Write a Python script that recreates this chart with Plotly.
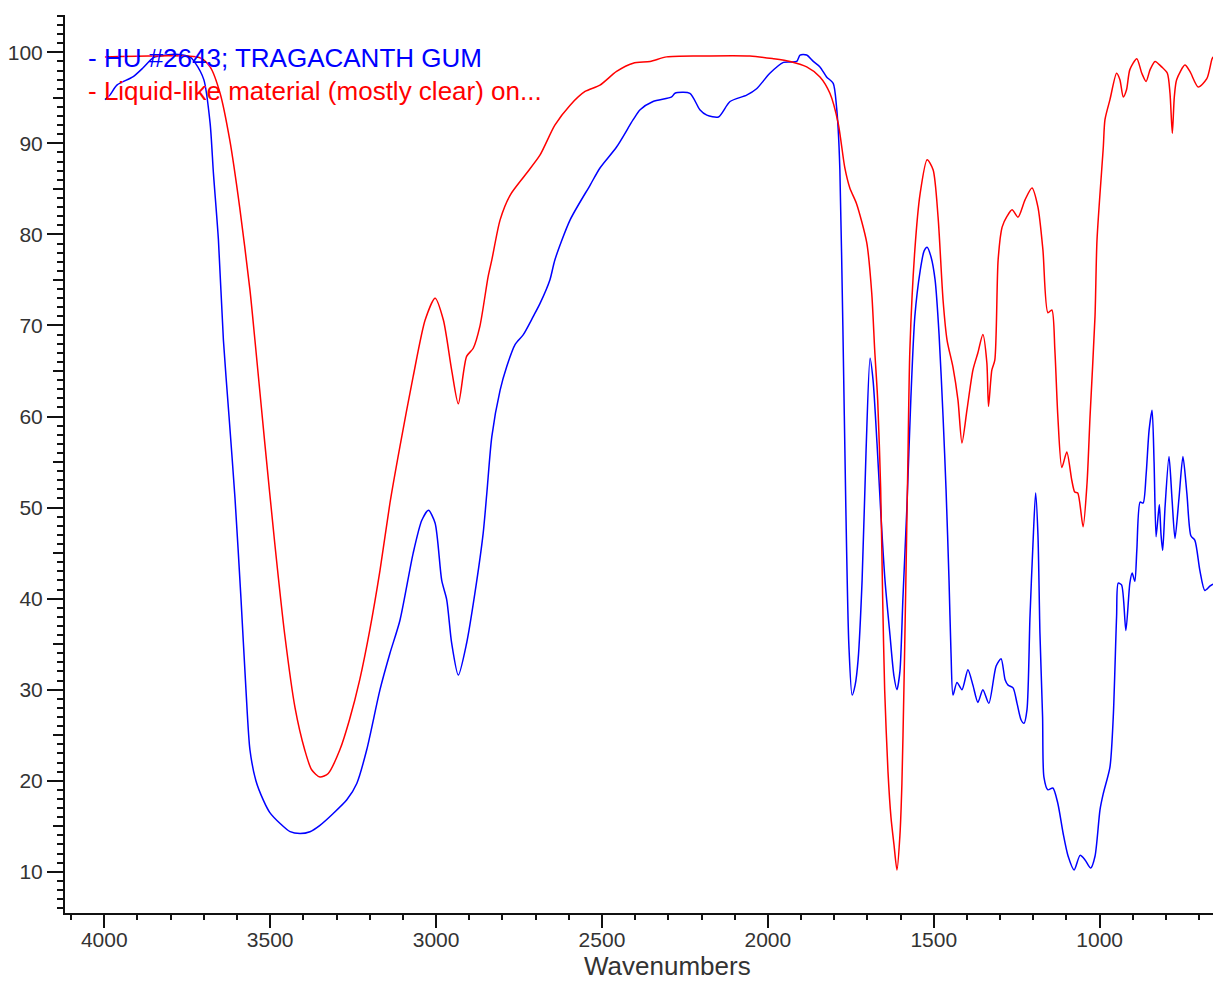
import plotly.graph_objects as go

# ---- data (wavenumber, %T) ----
blue_name = "HU #2643; TRAGACANTH GUM"
blue_wn = [3998, 3983, 3962, 3914, 3883, 3853, 3832, 3787, 3742, 3727, 3700, 3681, 3671, 3656, 3641,
           3624, 3606, 3588, 3573, 3561, 3543, 3521, 3501, 3470, 3440, 3410, 3380, 3350, 3310, 3269,
           3239, 3209, 3169, 3139, 3109, 3069, 3043, 3023, 3003, 2983, 2968, 2953, 2933, 2908, 2883,
           2858, 2847, 2832, 2807, 2787, 2762, 2737, 2707, 2687, 2657, 2642, 2596, 2536, 2506, 2456,
           2406, 2385, 2346, 2290, 2280, 2235, 2205, 2184, 2149, 2114, 2064, 2034, 1994, 1953, 1913,
           1903, 1883, 1863, 1843, 1823, 1803, 1793, 1788, 1783, 1774, 1765, 1756, 1746, 1737, 1728,
           1716, 1704, 1692, 1683, 1671, 1659, 1647, 1632, 1620, 1611, 1602, 1593, 1581, 1569, 1557,
           1541, 1529, 1520, 1508, 1496, 1484, 1472, 1463, 1454, 1448, 1442, 1430, 1415, 1397, 1382,
           1367, 1352, 1334, 1312, 1297, 1285, 1276, 1261, 1249, 1237, 1228, 1219, 1210, 1201, 1193,
           1186, 1180, 1172, 1168, 1156, 1141, 1126, 1110, 1095, 1077, 1059, 1044, 1027, 1014, 999,
           989, 969, 959, 949, 944, 934, 921, 909, 902, 894, 888, 878, 869, 860, 851,
           842, 836, 830, 824, 820, 815, 810, 803, 791, 782, 773, 761, 749, 737, 725,
           713, 698, 683, 667, 658]
blue_t = [94.8, 95.3, 96.4, 97.3, 98.3, 99.4, 99.6, 99.8, 99.5, 98.9, 97.0, 92.2, 86.7, 79.4, 68.4,
          60.0, 51.0, 40.0, 30.0, 23.4, 20.0, 17.9, 16.5, 15.3, 14.4, 14.2, 14.4, 15.1, 16.4, 17.9,
          19.7, 23.4, 30.0, 34.0, 37.6, 45.0, 48.6, 49.7, 48.3, 42.0, 39.9, 35.1, 31.6, 35.1, 40.6,
          47.2, 51.6, 57.8, 62.9, 65.5, 67.9, 69.0, 71.0, 72.4, 75.0, 77.2, 81.6, 85.4, 87.3, 89.6,
          92.6, 93.7, 94.6, 95.1, 95.5, 95.5, 93.7, 93.1, 92.9, 94.6, 95.3, 96.0, 97.7, 98.9, 99.0,
          99.7, 99.7, 99.0, 98.4, 97.3, 96.6, 94.0, 91.5, 87.1, 70.0, 50.0, 35.0, 29.4, 30.5, 33.3,
          42.0, 56.3, 66.4, 64.0, 57.0, 49.0, 42.0, 36.0, 31.5, 30.0, 32.0, 40.0, 50.0, 62.0, 71.0,
          76.0, 78.2, 78.6, 77.5, 75.0, 69.0, 60.0, 52.0, 42.0, 34.0, 29.4, 30.8, 30.0, 32.2, 30.5,
          28.6, 30.0, 28.5, 32.6, 33.4, 31.1, 30.5, 30.2, 28.5, 26.7, 26.3, 27.8, 38.0, 46.0, 51.6,
          47.0, 36.2, 27.0, 20.4, 19.0, 19.2, 17.5, 14.2, 11.7, 10.2, 11.8, 11.3, 10.4, 11.7, 16.8,
          18.6, 21.5, 27.0, 38.0, 41.7, 41.5, 36.5, 41.7, 42.8, 41.9, 45.3, 50.6, 50.5, 53.6, 58.5,
          60.7, 55.0, 46.8, 49.0, 50.3, 47.0, 45.3, 50.0, 55.6, 51.0, 46.6, 51.0, 55.6, 51.5, 46.9,
          46.4, 43.1, 40.9, 41.4, 41.6]

red_name = "Liquid-like material (mostly clear) on..."
red_wn = [3998, 3862, 3712, 3681, 3651, 3622, 3592, 3561, 3546, 3516, 3486, 3456, 3425, 3396, 3375,
          3350, 3325, 3290, 3261, 3230, 3200, 3169, 3139, 3109, 3069, 3033, 3003, 2978, 2953, 2933,
          2908, 2888, 2868, 2843, 2832, 2807, 2777, 2732, 2687, 2642, 2596, 2551, 2506, 2456, 2406,
          2355, 2305, 2205, 2054, 1984, 1933, 1883, 1843, 1813, 1788, 1768, 1753, 1733, 1702, 1687,
          1678, 1669, 1660, 1654, 1648, 1638, 1629, 1620, 1611, 1602, 1596, 1590, 1585, 1578, 1572,
          1557, 1541, 1520, 1502, 1487, 1472, 1460, 1442, 1427, 1415, 1400, 1382, 1367, 1352, 1340,
          1335, 1325, 1316, 1306, 1294, 1279, 1264, 1246, 1225, 1204, 1186, 1171, 1156, 1144, 1135,
          1126, 1114, 1099, 1084, 1075, 1066, 1050, 1038, 1029, 1014, 1008, 989, 984, 969, 949,
          939, 929, 919, 909, 888, 873, 860, 848, 833, 813, 796, 788, 781, 775, 768,
          743, 728, 703, 677, 662, 658]
red_t = [99.5, 99.6, 99.4, 98.4, 95.5, 90.4, 83.0, 73.9, 68.4, 57.0, 46.0, 36.0, 28.0, 23.4, 21.2,
         20.4, 20.8, 23.4, 26.7, 31.1, 36.5, 43.1, 50.5, 56.7, 64.4, 70.6, 73.0, 70.6, 65.1, 61.4,
         66.6, 67.5, 69.9, 75.4, 77.2, 81.6, 84.3, 86.5, 88.7, 92.0, 94.2, 95.7, 96.4, 97.9, 98.8,
         99.0, 99.5, 99.6, 99.6, 99.3, 99.0, 98.4, 97.3, 95.5, 92.2, 87.3, 85.1, 83.4, 79.1, 73.6,
         67.3, 61.8, 52.0, 40.0, 30.0, 21.0, 16.0, 13.0, 10.2, 14.0, 19.7, 30.0, 40.0, 55.0, 67.3,
         78.3, 84.5, 88.2, 87.1, 81.9, 72.8, 68.4, 65.4, 61.8, 57.1, 60.7, 65.1, 67.0, 69.0, 65.9,
         61.1, 65.1, 66.2, 77.2, 80.8, 82.0, 82.7, 81.9, 83.8, 85.1, 83.0, 78.3, 71.4, 71.7, 67.3,
         60.0, 54.4, 56.1, 53.0, 51.7, 51.6, 47.9, 52.7, 60.0, 71.0, 79.4, 89.6, 92.6, 94.8, 97.7,
         97.0, 95.1, 95.9, 98.1, 99.3, 97.7, 96.8, 98.1, 99.0, 98.4, 97.7, 95.5, 91.1, 95.1, 97.0,
         98.6, 97.9, 96.2, 97.1, 99.2, 99.5]

x_title = "Wavenumbers"
x_range = [4118.4, 658.4]
y_range = [5.47, 104.1]
mid_ticks = [15, 25, 35, 45, 55, 65, 75, 85, 95]

FONT = "Liberation Sans, Arial, sans-serif"
BLUE = "#0000ff"
RED = "#ff0000"

fig = go.Figure()
fig.add_trace(go.Scatter(x=blue_wn, y=blue_t, mode="lines", name=blue_name,
                         line=dict(color=BLUE, width=1.5, shape="spline", smoothing=0.7),
                         showlegend=False))
fig.add_trace(go.Scatter(x=red_wn, y=red_t, mode="lines", name=red_name,
                         line=dict(color=RED, width=1.5, shape="spline", smoothing=0.7),
                         showlegend=False))
# invisible helper trace to carry the mid-length tick axis
fig.add_trace(go.Scatter(x=blue_wn, y=blue_t, mode="lines", yaxis="y2",
                         line=dict(width=0), opacity=0, hoverinfo="skip", showlegend=False))

axis_color = "#111111"
fig.update_layout(
    width=1213, height=982,
    margin=dict(l=65, r=0, t=15, b=69),
    paper_bgcolor="white", plot_bgcolor="white",
    font=dict(family=FONT, color="#333333"),
    xaxis=dict(range=x_range, showgrid=False, zeroline=False,
               showline=True, linecolor=axis_color, linewidth=2,
               tickmode="linear", tick0=0, dtick=500, ticks="outside", ticklen=13,
               tickwidth=1.5, tickcolor=axis_color, ticklabelstandoff=-6,
               tickfont=dict(size=21, color="#333333", family=FONT),
               minor=dict(dtick=100, tick0=0, ticks="outside", ticklen=5,
                          tickwidth=1.5, tickcolor=axis_color, showgrid=False)),
    yaxis=dict(range=y_range, showgrid=False, zeroline=False,
               showline=True, linecolor=axis_color, linewidth=2,
               tickmode="linear", tick0=0, dtick=10, ticks="outside", ticklen=16,
               tickwidth=1.5, tickcolor=axis_color,
               tickfont=dict(size=21, color="#333333", family=FONT),
               minor=dict(dtick=1, tick0=0, ticks="outside", ticklen=6,
                          tickwidth=1.5, tickcolor=axis_color, showgrid=False)),
    yaxis2=dict(range=y_range, overlaying="y", side="left", anchor="x",
                showgrid=False, zeroline=False, showline=False,
                tickmode="array", tickvals=mid_ticks, showticklabels=False,
                ticks="outside", ticklen=11, tickwidth=1.5, tickcolor=axis_color),
)

fig.add_annotation(text=x_title, xref="paper", yref="paper", x=0.525, y=-0.059,
                   xanchor="center", yanchor="middle", showarrow=False,
                   font=dict(size=26, color="#333333", family=FONT))
fig.add_annotation(text="- " + blue_name, xref="paper", yref="paper", x=0.018, y=0.9523,
                   xanchor="left", yanchor="middle", showarrow=False,
                   font=dict(size=26, color=BLUE, family=FONT))
fig.add_annotation(text="- " + red_name, xref="paper", yref="paper", x=0.018, y=0.9157,
                   xanchor="left", yanchor="middle", showarrow=False,
                   font=dict(size=26, color=RED, family=FONT))

fig.write_html("out.html")
